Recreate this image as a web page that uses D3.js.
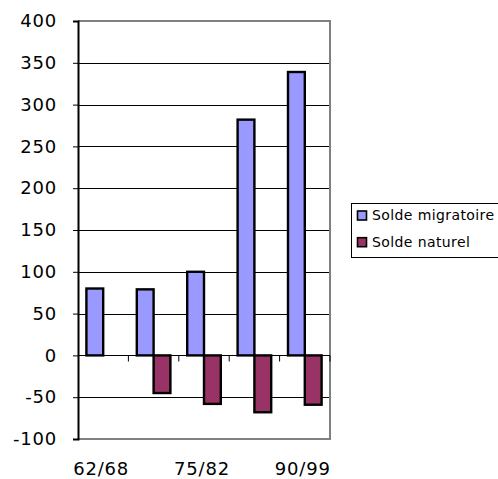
<!DOCTYPE html>
<html>
<head>
<meta charset="utf-8">
<script src="https://cdn.jsdelivr.net/npm/d3@7"></script>
<style>
  html, body { margin: 0; padding: 0; background: #fff; }
  svg { display: block; font-family: "DejaVu Sans", Verdana, sans-serif; }
</style>
</head>
<body>
<svg id="chart" width="498" height="479"></svg>
<script>
// ---- data ----
const categories = ["62/68", "68/75", "75/82", "82/90", "90/99"];
const shownLabels = ["62/68", "75/82", "90/99"];
const soldeMigratoire = [80, 79, 100, 282, 339];
const soldeNaturel = [null, -45, -58, -68, -59];
const seriesNames = ["Solde migratoire", "Solde naturel"];
const seriesColors = ["#9999FF", "#993366"];
const yTicks = [-100, -50, 0, 50, 100, 150, 200, 250, 300, 350, 400];

// ---- layout ----
const plot = { left: 78, right: 330, top: 21, bottom: 439 };
const svg = d3.select("#chart");

const x = d3.scaleBand().domain(categories).range([plot.left, plot.right]).padding(0);
const y = d3.scaleLinear().domain([-100, 400]).range([plot.bottom, plot.top]);
const barW = x.bandwidth() / 3;

// gridlines
svg.append("g").selectAll("line")
  .data(yTicks.filter(t => t !== -100 && t !== 400 && t !== 0))
  .join("line")
  .attr("x1", plot.left).attr("x2", plot.right)
  .attr("y1", d => Math.round(y(d)) + 0.5).attr("y2", d => Math.round(y(d)) + 0.5)
  .attr("stroke", "#000").attr("stroke-width", 1);

// frame (top, right, bottom gray)
svg.append("path")
  .attr("d", `M${plot.left},${plot.top}H${plot.right}V${plot.bottom}H${plot.left}`)
  .attr("fill", "none").attr("stroke", "#808080").attr("stroke-width", 2);

// bars
const series = [soldeMigratoire, soldeNaturel];
series.forEach((vals, si) => {
  svg.append("g").selectAll("rect")
    .data(categories.map((c, i) => ({ c, v: vals[i] })).filter(d => d.v !== null))
    .join("rect")
    .attr("x", d => x(d.c) + barW / 2 + si * barW)
    .attr("width", barW)
    .attr("y", d => y(Math.max(0, d.v)))
    .attr("height", d => Math.abs(y(d.v) - y(0)))
    .attr("fill", seriesColors[si])
    .attr("stroke", "#000").attr("stroke-width", 2.4);
});

// zero line with category ticks
const zeroY = Math.round(y(0)) + 0.5;
svg.append("line")
  .attr("x1", plot.left).attr("x2", plot.right)
  .attr("y1", zeroY).attr("y2", zeroY)
  .attr("stroke", "#000").attr("stroke-width", 1);
svg.append("g").selectAll("line")
  .data(categories.slice(1).concat(["__end"]))
  .join("line")
  .attr("x1", d => d === "__end" ? plot.right : x(d))
  .attr("x2", d => d === "__end" ? plot.right : x(d))
  .attr("y1", zeroY).attr("y2", zeroY + 6)
  .attr("stroke", "#000").attr("stroke-width", 1);

// y axis
const yAxis = d3.axisLeft(y).tickValues(yTicks).tickSize(5).tickPadding(16)
  .tickFormat(d => String(d));
const gy = svg.append("g").attr("transform", `translate(${plot.left},0)`).call(yAxis);
gy.select(".domain").attr("stroke", "#000").attr("stroke-width", 2);
gy.selectAll(".tick line").attr("stroke", "#000").attr("stroke-width", 1);
gy.selectAll(".tick text")
  .attr("font-size", 18).attr("fill", "#000")
  .attr("letter-spacing", "0.8px")
  .attr("font-family", "DejaVu Sans, Verdana, sans-serif");

// x labels
svg.append("g").selectAll("text")
  .data(shownLabels)
  .join("text")
  .attr("x", d => x(d) + x.bandwidth() / 2 - 2)
  .attr("y", 475)
  .attr("text-anchor", "middle")
  .attr("font-size", 18)
  .attr("letter-spacing", "0.8px")
  .attr("fill", "#000")
  .text(d => d);

// legend
const lg = svg.append("g");
lg.append("rect")
  .attr("x", 351.5).attr("y", 203.5).attr("width", 160).attr("height", 54)
  .attr("fill", "#fff").attr("stroke", "#000").attr("stroke-width", 1);
seriesNames.forEach((name, i) => {
  const cy = 215.5 + i * 26.7;
  lg.append("rect")
    .attr("x", 357.5).attr("y", cy - 4.5).attr("width", 9).attr("height", 9)
    .attr("fill", seriesColors[i]).attr("stroke", "#000").attr("stroke-width", 1.6);
  lg.append("text")
    .attr("x", 372).attr("y", cy + 4.7)
    .attr("font-size", 14)
    .attr("letter-spacing", "0.4px")
    .attr("fill", "#000")
    .text(name);
});
</script>
</body>
</html>
